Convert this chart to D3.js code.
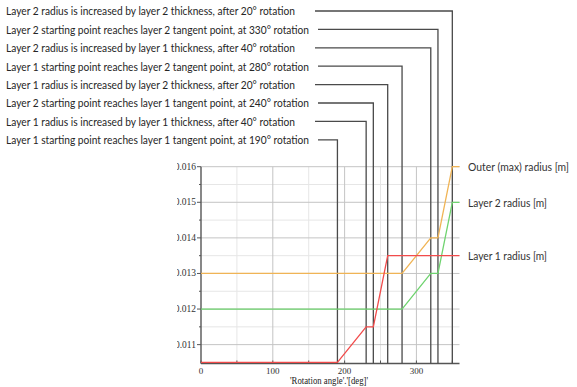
<!DOCTYPE html>
<html><head><meta charset="utf-8">
<script src="https://cdn.jsdelivr.net/npm/d3@7"></script>
<style>body{margin:0;background:#fff}svg{display:block}</style>
</head><body>
<script>
const angles = [0, 190, 230, 240, 260, 280, 320, 330, 350, 360];
const layer1 = [0.0105, 0.0105, 0.0115, 0.0115, 0.0135, 0.0135, 0.0135, 0.0135, 0.0135, 0.0135];
const layer2 = [0.012, 0.012, 0.012, 0.012, 0.012, 0.012, 0.013, 0.013, 0.015, 0.015];
const outer  = [0.013, 0.013, 0.013, 0.013, 0.013, 0.013, 0.014, 0.014, 0.016, 0.016];
const seriesNames = ["Outer (max) radius [m]", "Layer 2 radius [m]", "Layer 1 radius [m]"];
const eventAngles = [350, 330, 320, 280, 260, 240, 230, 190];
const eventLabels = [
  "Layer 2 radius is increased by layer 2 thickness, after 20\u00b0 rotation",
  "Layer 2 starting point reaches layer 2 tangent point, at 330\u00b0 rotation",
  "Layer 2 radius is increased by layer 1 thickness, after 40\u00b0 rotation",
  "Layer 1 starting point reaches layer 2 tangent point, at 280\u00b0 rotation",
  "Layer 1 radius is increased by layer 2 thickness, after 20\u00b0 rotation",
  "Layer 2 starting point reaches layer 1 tangent point, at 240\u00b0 rotation",
  "Layer 1 radius is increased by layer 1 thickness, after 40\u00b0 rotation",
  "Layer 1 starting point reaches layer 1 tangent point, at 190\u00b0 rotation"
];
const xTicks = [0, 100, 200, 300];
const yTicks = [0.011, 0.012, 0.013, 0.014, 0.015, 0.016];
const xTitle = "'Rotation angle'.'[deg]'";

const W = 577, H = 387;
const svg = d3.select("body").append("svg").attr("width", W).attr("height", H);
const x = d3.scaleLinear().domain([0, 360]).range([201, 459.5]);
const y = d3.scaleLinear().domain([0.01047, 0.016]).range([363.5, 166.7]);

// grid
const xMinor = d3.range(50, 360, 100);
const yMinor = d3.range(0.0115, 0.016, 0.001);
const g = svg.append("g");
g.selectAll(".xm").data(xMinor).enter().append("line")
  .attr("x1", d => x(d)).attr("x2", d => x(d)).attr("y1", y.range()[0]).attr("y2", y.range()[1])
  .attr("stroke", "#e6e6e6").attr("stroke-width", 1);
g.selectAll(".ym").data(yMinor).enter().append("line")
  .attr("y1", d => y(d)).attr("y2", d => y(d)).attr("x1", x.range()[0]).attr("x2", x.range()[1])
  .attr("stroke", "#e6e6e6").attr("stroke-width", 1);
g.selectAll(".xM").data(xTicks.slice(1)).enter().append("line")
  .attr("x1", d => x(d)).attr("x2", d => x(d)).attr("y1", y.range()[0]).attr("y2", y.range()[1])
  .attr("stroke", "#c4c4c4").attr("stroke-width", 1);
g.selectAll(".yM").data(yTicks).enter().append("line")
  .attr("y1", d => y(d)).attr("y2", d => y(d)).attr("x1", x.range()[0]).attr("x2", x.range()[1])
  .attr("stroke", "#c4c4c4").attr("stroke-width", 1);

// axes
svg.append("line").attr("x1", x(0)).attr("x2", x(0)).attr("y1", y.range()[0]).attr("y2", y.range()[1])
  .attr("stroke", "#555").attr("stroke-width", 1.4);
svg.append("line").attr("x1", x(0)).attr("x2", x(360)).attr("y1", y.range()[0]).attr("y2", y.range()[0])
  .attr("stroke", "#555").attr("stroke-width", 1.4);
svg.selectAll(".yt").data(yTicks).enter().append("line")
  .attr("x1", x(0) - 4).attr("x2", x(0)).attr("y1", d => y(d)).attr("y2", d => y(d)).attr("stroke", "#555");
svg.selectAll(".ytm").data(yMinor).enter().append("line")
  .attr("x1", x(0) - 2).attr("x2", x(0)).attr("y1", d => y(d)).attr("y2", d => y(d)).attr("stroke", "#555");
svg.selectAll(".xt").data(xTicks.concat(xMinor)).enter().append("line")
  .attr("x1", d => x(d)).attr("x2", d => x(d)).attr("y1", y.range()[0]).attr("y2", y.range()[0] - 3).attr("stroke", "#555");

svg.append("clipPath").attr("id", "lc").append("rect").attr("x", 177).attr("y", 0).attr("width", 30).attr("height", H);
svg.append("g").attr("clip-path", "url(#lc)").selectAll("text").data(yTicks).enter().append("text")
  .attr("x", x(0) - 5).attr("y", d => y(d) + 3).attr("text-anchor", "end")
  .attr("font-family", "Liberation Serif").attr("font-size", 9.5).attr("fill", "#333")
  .text(d => d3.format(".3f")(d));
svg.selectAll(".xl").data(xTicks).enter().append("text")
  .attr("x", d => x(d)).attr("y", 373.5).attr("text-anchor", "middle")
  .attr("font-family", "Liberation Serif").attr("font-size", 9).attr("fill", "#333")
  .text(d => d);
svg.append("text").attr("x", 290).attr("y", 384).attr("textLength", 78).attr("lengthAdjust", "spacingAndGlyphs")
  .attr("font-family", "Liberation Serif").attr("font-size", 10.5).attr("fill", "#222").text(xTitle);

// event lines
const rowY = i => 11 + i * 18.4;
const ev = svg.append("g");
eventLabels.forEach((lab, i) => {
  const t = ev.append("text").attr("x", 6).attr("y", rowY(i) + 4.3)
    .attr("font-family", "Lato").attr("font-size", 11.8).attr("fill", "#262626").text(lab);
  const long = lab.indexOf("point") >= 0;
  const targetW = long ? 303 : 289;
  t.attr("textLength", targetW).attr("lengthAdjust", "spacingAndGlyphs");
  const start = long ? 318 : 315;
  const xe = x(eventAngles[i]);
  ev.append("path").attr("d", `M${start},${rowY(i)}H${xe}V${y.range()[0]}`)
    .attr("fill", "none").attr("stroke", "#4a4a4a").attr("stroke-width", 1.3);
});

// series
const line = d3.line().x((d, i) => x(angles[i])).y(d => y(d));
const series = [outer, layer2, layer1];
const colors = ["#f0b455", "#6fd36f", "#f24b4b"];
const legendW = [101, 79, 79];
series.forEach((s, k) => {
  svg.append("path").datum(s).attr("d", line).attr("fill", "none")
    .attr("stroke", colors[k]).attr("stroke-width", 1.3);
});
series.forEach((s, k) => {
  svg.append("text").attr("x", 468).attr("y", y(s[s.length - 1]) + 4.3)
    .attr("textLength", legendW[k]).attr("lengthAdjust", "spacingAndGlyphs")
    .attr("font-family", "Lato").attr("font-size", 10.6).attr("fill", "#333").text(seriesNames[k]);
});
</script>
</body></html>
